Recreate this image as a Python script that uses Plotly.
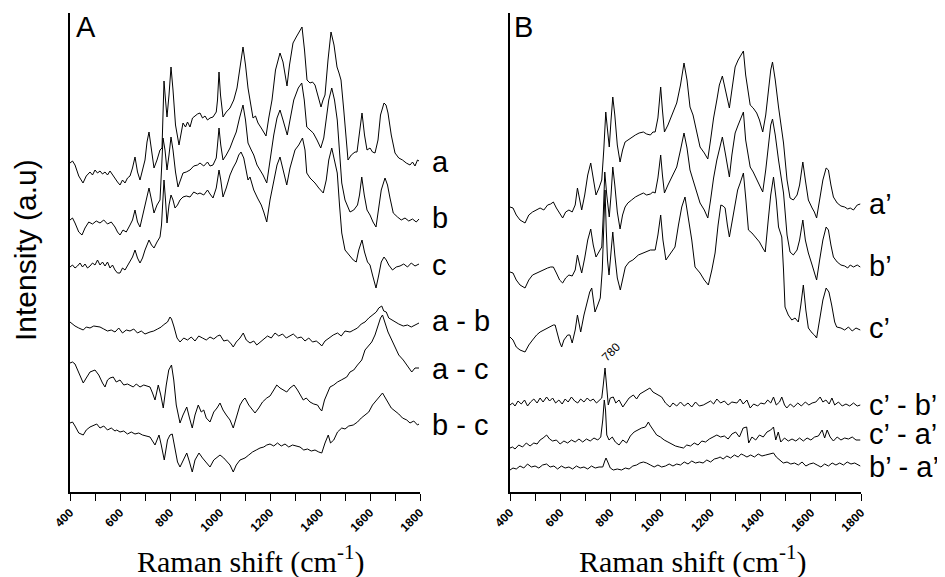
import plotly.graph_objects as go

# Raman shift (cm-1), intensity (a.u.) pairs (spectra already stacked)
A_a = [(400,337),(410,339),(420,335),(435,324),(452,317),(465,324),(480,328),(490,325),(500,330),(510,327),(520,329),(530,326),(540,328),(550,325),(560,329),(570,325),(580,322),(590,318),(600,315),(610,320),(620,317),(630,322),(640,324),(650,332),(660,343),(670,328),(680,320),(690,330),(700,340),(708,358),(716,368),(726,350),(736,332),(748,340),(760,350),(768,352),(772,380),(776,419),(782,400),(788,383),(796,405),(804,433),(812,410),(822,375),(836,355),(844,368),(852,377),(862,373),(870,378),(880,373),(890,382),(900,384),(910,386),(920,387),(930,382),(940,384),(950,380),(960,382),(972,383),(985,388),(990,400),(996,428),(1002,405),(1012,383),(1025,388),(1040,392),(1055,400),(1068,412),(1080,435),(1092,453),(1102,435),(1112,412),(1122,397),(1132,382),(1142,384),(1152,377),(1165,372),(1175,368),(1184,364),(1195,382),(1208,400),(1222,430),(1240,447),(1252,438),(1262,420),(1268,414),(1278,435),(1292,457),(1305,463),(1315,467),(1328,473),(1338,450),(1348,420),(1360,417),(1370,418),(1380,415),(1392,405),(1404,393),(1412,400),(1420,405),(1432,440),(1444,468),(1456,455),(1468,433),(1476,427),(1484,420),(1495,390),(1505,360),(1512,340),(1525,345),(1540,348),(1548,348),(1558,365),(1568,387),(1578,365),(1588,350),(1600,352),(1610,348),(1620,347),(1632,360),(1642,385),(1656,397),(1664,395),(1672,387),(1685,365),(1700,347),(1715,342),(1730,340),(1745,337),(1760,335),(1770,338),(1780,334),(1790,340),(1796,339)]
A_b = [(400,280),(410,282),(420,277),(435,268),(448,265),(460,272),(475,278),(490,276),(505,279),(520,277),(535,280),(550,276),(565,278),(580,273),(590,268),(600,265),(612,270),(625,268),(640,275),(650,280),(660,290),(670,278),(680,273),(692,285),(705,300),(716,312),(726,300),(736,287),(748,295),(760,300),(766,330),(772,362),(780,350),(788,330),(796,345),(804,363),(812,350),(822,328),(832,313),(842,320),(852,327),(865,328),(880,330),(895,334),(910,335),(920,337),(935,334),(950,338),(960,334),(972,335),(985,342),(990,355),(996,372),(1003,355),(1012,340),(1025,345),(1040,352),(1052,360),(1065,368),(1078,382),(1092,395),(1102,380),(1112,357),(1125,350),(1135,345),(1148,335),(1160,330),(1172,325),(1187,317),(1200,340),(1215,365),(1228,382),(1240,390),(1252,380),(1269,365),(1280,380),(1295,400),(1313,412),(1327,417),(1337,400),(1347,373),(1360,370),(1373,367),(1388,360),(1403,352),(1415,362),(1425,380),(1435,400),(1447,412),(1458,400),(1469,380),(1478,350),(1487,317),(1500,300),(1520,288),(1535,290),(1550,295),(1558,305),(1567,323),(1577,305),(1588,290),(1600,285),(1612,278),(1624,273),(1635,290),(1645,310),(1660,322),(1670,315),(1680,302),(1693,287),(1710,283),(1725,280),(1740,282),(1755,279),(1770,281),(1785,278),(1796,281)]
A_c = [(400,233),(410,235),(420,232),(430,234),(440,237),(450,233),(460,236),(470,232),(480,234),(490,237),(500,235),(510,240),(520,235),(530,238),(540,234),(550,238),(560,232),(570,235),(580,230),(590,227),(600,227),(610,232),(620,230),(630,234),(640,238),(650,243),(660,250),(670,242),(680,237),(690,242),(700,250),(708,256),(716,260),(726,255),(736,252),(748,258),(760,263),(766,275),(772,310),(776,320),(782,300),(788,277),(796,295),(804,305),(812,300),(820,292),(830,295),(840,300),(852,303),(865,304),(880,303),(895,308),(910,306),(920,307),(935,305),(950,310),(960,306),(972,302),(985,312),(990,320),(996,330),(1003,320),(1012,303),(1025,312),(1040,325),(1052,332),(1065,338),(1075,345),(1084,348),(1095,342),(1105,330),(1112,320),(1120,323),(1135,310),(1150,302),(1165,295),(1175,288),(1187,278),(1200,300),(1215,320),(1228,335),(1240,343),(1252,330),(1267,315),(1280,332),(1300,350),(1315,355),(1330,362),(1340,350),(1347,327),(1360,322),(1380,317),(1395,312),(1413,307),(1425,320),(1435,340),(1447,352),(1458,340),(1469,327),(1478,295),(1487,267),(1500,250),(1515,245),(1533,240),(1545,238),(1555,250),(1568,260),(1578,248),(1590,238),(1600,235),(1610,225),(1624,212),(1635,225),(1645,238),(1656,243),(1665,240),(1675,235),(1690,230),(1705,233),(1720,234),(1735,236),(1750,233),(1765,237),(1780,234),(1796,236)]
A_ab = [(400,178),(410,176),(420,174),(435,172),(453,170),(465,173),(480,172),(495,174),(510,173),(520,173),(535,171),(550,169),(565,170),(580,168),(595,172),(610,167),(625,170),(640,169),(655,171),(670,167),(685,169),(700,166),(720,168),(735,169),(750,171),(765,173),(773,175),(790,178),(800,183),(806,181),(815,174),(828,162),(840,158),(855,162),(870,160),(885,163),(900,159),(915,164),(930,162),(945,160),(960,163),(975,161),(990,164),(1000,165),(1015,159),(1030,160),(1045,156),(1053,153),(1065,158),(1080,162),(1093,167),(1105,160),(1120,157),(1135,159),(1147,155),(1160,158),(1175,161),(1190,164),(1205,162),(1220,167),(1235,164),(1250,166),(1265,162),(1280,164),(1293,166),(1310,162),(1325,163),(1340,159),(1355,162),(1370,158),(1385,159),(1400,156),(1407,154),(1420,159),(1435,162),(1453,165),(1470,167),(1485,164),(1500,169),(1520,168),(1535,170),(1550,172),(1565,176),(1580,178),(1595,182),(1610,185),(1625,188),(1635,192),(1647,194),(1655,189),(1665,188),(1675,182),(1687,180),(1700,178),(1715,176),(1733,174),(1750,175),(1765,173),(1780,175),(1796,177)]
A_ac = [(400,137),(410,138),(420,136),(435,127),(453,117),(465,122),(480,128),(500,130),(515,125),(530,117),(540,113),(550,120),(560,122),(573,123),(585,118),(600,120),(615,115),(630,116),(645,114),(653,113),(665,116),(680,113),(695,115),(710,114),(720,113),(730,107),(740,100),(747,108),(753,115),(763,105),(773,92),(785,115),(795,130),(806,135),(815,120),(825,95),(840,77),(852,85),(867,93),(878,82),(889,72),(900,85),(913,95),(925,88),(935,90),(945,82),(960,78),(975,88),(988,92),(1000,97),(1012,90),(1025,85),(1040,80),(1053,72),(1065,82),(1080,95),(1092,100),(1100,102),(1115,95),(1130,90),(1140,87),(1155,92),(1170,98),(1187,102),(1200,104),(1215,110),(1227,115),(1240,112),(1255,110),(1267,108),(1280,112),(1296,115),(1310,110),(1322,105),(1333,100),(1345,102),(1360,98),(1375,96),(1390,95),(1400,91),(1407,89),(1418,100),(1430,108),(1440,113),(1455,115),(1470,118),(1485,120),(1500,122),(1507,123),(1520,128),(1535,130),(1550,135),(1560,138),(1567,140),(1580,150),(1595,155),(1607,158),(1620,165),(1632,175),(1642,182),(1650,185),(1660,178),(1672,168),(1687,160),(1700,153),(1715,145),(1733,140),(1750,134),(1767,128),(1780,132),(1796,132)]
A_bc = [(400,77),(410,78),(420,74),(435,67),(453,65),(465,70),(480,73),(495,75),(507,76),(520,72),(535,74),(550,70),(565,72),(580,69),(587,70),(600,68),(615,69),(630,66),(645,68),(660,66),(675,67),(690,65),(705,64),(720,63),(730,59),(740,55),(748,60),(756,65),(765,55),(777,40),(790,60),(800,65),(809,66),(820,52),(830,38),(840,33),(852,40),(867,47),(878,38),(889,28),(900,40),(916,47),(930,42),(945,38),(960,33),(975,40),(988,43),(1000,45),(1015,42),(1030,38),(1040,35),(1053,28),(1065,35),(1080,40),(1100,42),(1115,45),(1130,48),(1145,50),(1160,52),(1175,53),(1187,55),(1200,56),(1215,54),(1230,57),(1245,54),(1260,56),(1275,53),(1290,55),(1305,54),(1320,53),(1335,50),(1350,51),(1365,49),(1380,50),(1395,48),(1407,47),(1420,57),(1433,65),(1442,57),(1455,60),(1470,68),(1487,72),(1500,71),(1515,74),(1533,75),(1550,78),(1565,82),(1580,85),(1595,88),(1610,95),(1625,100),(1640,104),(1650,107),(1660,103),(1672,98),(1685,92),(1700,89),(1715,86),(1730,82),(1747,80),(1760,77),(1775,79),(1790,75),(1796,76)]

B_a = [(400,293),(412,292),(425,285),(440,280),(460,277),(475,285),(490,288),(506,290),(520,292),(535,290),(550,295),(562,296),(573,298),(585,292),(598,286),(610,282),(622,288),(635,290),(648,288),(660,295),(669,312),(678,300),(686,290),(698,305),(710,325),(722,337),(732,320),(743,305),(755,312),(766,320),(774,350),(782,388),(789,370),(796,353),(803,380),(810,403),(818,385),(828,355),(839,338),(849,350),(859,358),(870,360),(885,363),(900,365),(915,367),(932,368),(945,366),(960,365),(970,368),(979,368),(990,382),(1001,413),(1008,390),(1016,368),(1030,375),(1045,385),(1065,397),(1080,415),(1094,437),(1106,420),(1118,393),(1130,385),(1143,370),(1158,353),(1175,347),(1189,341),(1200,360),(1212,382),(1225,400),(1235,415),(1247,424),(1260,410),(1275,392),(1285,410),(1298,433),(1310,440),(1320,444),(1331,449),(1340,425),(1358,395),(1370,392),(1384,387),(1395,380),(1408,368),(1420,385),(1430,410),(1440,430),(1447,438),(1458,420),(1471,393),(1480,375),(1491,357),(1505,320),(1517,302),(1530,300),(1545,305),(1555,315),(1568,338),(1578,320),(1590,300),(1605,292),(1614,288),(1623,282),(1635,300),(1648,320),(1661,332),(1670,330),(1680,315),(1690,303),(1705,297),(1720,294),(1735,293),(1747,291),(1757,292),(1770,290),(1785,295),(1797,296)]
B_b = [(400,228),(412,227),(425,220),(440,215),(460,212),(475,220),(490,225),(506,227),(520,228),(535,230),(550,232),(562,233),(573,233),(585,227),(598,220),(610,217),(622,222),(635,225),(648,224),(660,230),(669,245),(678,235),(686,227),(698,242),(710,260),(722,271),(732,255),(743,243),(755,248),(766,253),(772,285),(778,328),(786,305),(796,283),(803,305),(810,333),(818,315),(828,288),(839,271),(849,285),(859,293),(870,297),(885,300),(900,303),(915,305),(932,307),(945,305),(960,306),(970,308),(979,307),(990,322),(1001,345),(1008,325),(1016,307),(1030,315),(1045,323),(1065,333),(1080,350),(1094,367),(1106,352),(1118,330),(1130,320),(1143,308),(1158,297),(1175,290),(1189,282),(1200,300),(1212,322),(1225,340),(1235,352),(1247,363),(1260,345),(1275,323),(1285,345),(1298,367),(1310,375),(1320,382),(1331,388),(1340,360),(1358,333),(1370,328),(1384,320),(1395,315),(1408,308),(1420,330),(1430,355),(1440,375),(1447,381),(1458,365),(1471,340),(1480,323),(1491,307),(1505,265),(1517,248),(1530,245),(1545,250),(1555,260),(1568,280),(1578,260),(1590,247),(1605,235),(1614,228),(1623,220),(1635,240),(1648,260),(1661,273),(1670,270),(1680,255),(1690,243),(1705,238),(1720,235),(1735,234),(1747,232),(1757,235),(1770,233),(1785,235),(1797,233)]
B_c = [(400,163),(412,160),(425,153),(440,150),(460,148),(475,155),(490,160),(506,165),(520,168),(535,170),(546,172),(560,174),(573,175),(580,175),(590,165),(598,158),(606,153),(615,160),(630,165),(639,165),(648,157),(660,170),(669,185),(676,175),(682,168),(695,185),(710,200),(718,208),(726,212),(733,200),(739,188),(750,195),(760,202),(768,230),(774,270),(779,310),(784,270),(789,240),(795,225),(802,245),(810,268),(818,245),(828,222),(840,210),(850,222),(860,233),(875,238),(890,240),(912,245),(930,247),(945,248),(960,250),(979,250),(990,265),(1001,285),(1010,260),(1022,240),(1035,245),(1050,250),(1058,253),(1072,275),(1085,293),(1098,303),(1110,285),(1125,260),(1138,233),(1158,227),(1175,220),(1191,215),(1205,230),(1218,247),(1230,275),(1241,295),(1250,294),(1258,292),(1267,275),(1275,263),(1287,280),(1298,297),(1308,310),(1318,317),(1331,327),(1341,300),(1351,270),(1365,267),(1378,263),(1395,258),(1408,252),(1418,248),(1430,280),(1440,305),(1451,323),(1462,300),(1471,273),(1484,263),(1491,230),(1497,193),(1510,185),(1524,180),(1537,182),(1550,178),(1560,195),(1570,215),(1580,190),(1590,172),(1605,167),(1614,165),(1623,162),(1635,180),(1648,200),(1661,212),(1672,208),(1683,195),(1695,178),(1703,173),(1720,172),(1735,170),(1750,173),(1765,169),(1780,172),(1797,170)]
B_cb = [(400,95),(410,97),(420,94),(432,99),(445,96),(458,100),(470,94),(482,98),(495,101),(508,97),(520,102),(532,98),(546,103),(558,99),(570,102),(582,97),(595,100),(608,96),(620,101),(632,98),(645,103),(658,99),(670,97),(682,101),(695,98),(708,102),(720,99),(732,101),(745,97),(758,100),(766,102),(772,115),(779,132),(785,115),(792,95),(800,102),(812,103),(822,97),(835,100),(850,93),(862,98),(875,102),(892,105),(905,101),(918,106),(930,108),(945,110),(958,112),(970,108),(985,106),(1005,103),(1020,97),(1038,93),(1050,97),(1065,94),(1080,98),(1095,94),(1110,97),(1125,93),(1140,98),(1155,94),(1171,95),(1185,97),(1200,99),(1212,96),(1225,101),(1240,97),(1255,99),(1270,95),(1285,98),(1305,97),(1318,101),(1330,96),(1345,100),(1358,92),(1372,96),(1388,94),(1400,97),(1415,96),(1428,100),(1440,97),(1451,103),(1462,95),(1475,98),(1484,103),(1495,95),(1504,92),(1518,96),(1532,93),(1548,97),(1562,94),(1578,98),(1592,95),(1605,97),(1620,98),(1637,103),(1648,98),(1660,100),(1673,96),(1684,102),(1695,95),(1710,98),(1725,94),(1740,96),(1755,94),(1770,97),(1785,94),(1797,95)]
B_ca = [(400,52),(410,53),(420,51),(435,55),(450,53),(465,57),(480,54),(495,57),(508,56),(520,60),(532,62),(546,65),(558,61),(570,59),(585,60),(600,56),(615,59),(630,57),(645,60),(660,58),(675,61),(690,58),(705,61),(720,59),(735,62),(750,60),(762,63),(770,80),(776,100),(781,90),(786,65),(795,60),(808,63),(820,58),(835,55),(850,60),(865,57),(880,64),(895,68),(910,70),(925,72),(940,73),(952,78),(958,75),(970,70),(985,65),(1000,63),(1015,60),(1030,58),(1045,56),(1060,54),(1075,53),(1092,52),(1105,55),(1120,54),(1135,57),(1150,55),(1165,59),(1180,58),(1195,61),(1210,63),(1225,65),(1240,63),(1255,64),(1270,61),(1285,66),(1300,68),(1315,63),(1330,72),(1344,73),(1352,57),(1365,63),(1380,60),(1395,65),(1410,63),(1425,68),(1440,70),(1451,73),(1460,60),(1470,68),(1480,58),(1495,62),(1510,59),(1525,61),(1540,59),(1555,62),(1570,59),(1585,62),(1600,60),(1615,63),(1630,64),(1645,70),(1655,62),(1665,70),(1677,63),(1690,59),(1705,63),(1720,60),(1735,62),(1750,61),(1765,63),(1780,60),(1797,60)]
B_ba = [(400,30),(412,32),(425,31),(440,34),(455,32),(470,36),(485,33),(500,34),(515,32),(530,35),(546,36),(560,33),(575,34),(590,31),(605,34),(620,32),(635,33),(650,31),(665,34),(680,32),(695,33),(710,31),(725,34),(740,32),(755,33),(770,33),(778,39),(783,42),(790,38),(800,32),(812,30),(828,31),(845,30),(860,32),(875,31),(890,34),(905,35),(918,37),(932,38),(945,37),(960,35),(975,33),(990,35),(1005,33),(1020,34),(1035,36),(1050,34),(1065,36),(1080,35),(1095,38),(1110,36),(1125,39),(1140,37),(1155,38),(1170,37),(1185,40),(1200,38),(1215,41),(1230,42),(1238,43),(1250,41),(1265,44),(1280,42),(1295,45),(1310,43),(1322,46),(1331,45),(1345,43),(1360,45),(1375,43),(1390,46),(1405,44),(1420,45),(1435,46),(1451,47),(1462,43),(1475,40),(1490,37),(1505,38),(1520,36),(1535,37),(1550,35),(1565,38),(1580,34),(1595,36),(1610,37),(1625,35),(1640,33),(1655,36),(1670,34),(1685,37),(1700,35),(1715,37),(1730,35),(1745,38),(1760,36),(1775,37),(1790,35),(1797,34)]

PANEL_A = [("a", A_a), ("b", A_b), ("c", A_c), ("a - b", A_ab), ("a - c", A_ac), ("b - c", A_bc)]
PANEL_B = [("a\u2019", B_a), ("b\u2019", B_b), ("c\u2019", B_c),
           ("c\u2019 - b\u2019", B_cb), ("c\u2019 - a\u2019", B_ca), ("b\u2019 - a\u2019", B_ba)]
X_TICKS = [400, 600, 800, 1000, 1200, 1400, 1600, 1800]

# the page body has an 8px margin: build the figure to fill the window from (8, 8)
OFF = 8
W, H = 945 - OFF, 577 - OFF
def px(x):
    return (x - OFF) / W
def py(y):
    return 1 - (y - OFF) / H

fig = go.Figure()
for name, pts in PANEL_A:
    fig.add_trace(go.Scatter(x=[p[0] for p in pts], y=[p[1] for p in pts], mode="lines",
                             line=dict(color="black", width=1), name=name, xaxis="x", yaxis="y",
                             showlegend=False))
for name, pts in PANEL_B:
    fig.add_trace(go.Scatter(x=[p[0] for p in pts], y=[p[1] for p in pts], mode="lines",
                             line=dict(color="black", width=1), name=name, xaxis="x2", yaxis="y2",
                             showlegend=False))

xcommon = dict(range=[400, 1800], tickvals=X_TICKS, ticks="outside", ticklen=7, tickwidth=1.2,
               tickcolor="black", showline=True, linecolor="black", linewidth=1.8,
               showgrid=False, zeroline=False, tickangle=-45, automargin=False,
               tickfont=dict(family="Arial", size=12, color="black", weight="bold"),
               minor=dict(dtick=100, tick0=400, ticks="outside", ticklen=7, tickwidth=1.2, tickcolor="black"))
ycommon = dict(range=[8, 487], showline=True, linecolor="black", linewidth=1.8, automargin=False,
               showgrid=False, zeroline=False, showticklabels=False, ticks="")

ydom = [py(492), py(13)]
fig.update_layout(
    template="none",
    width=W, height=H, autosize=False,
    margin=dict(l=0, r=0, t=0, b=0, pad=0),
    paper_bgcolor="white", plot_bgcolor="white",
    xaxis=dict(domain=[px(70), px(420)], anchor="y", **xcommon),
    yaxis=dict(domain=ydom, anchor="x", **ycommon),
    xaxis2=dict(domain=[px(510), px(861)], anchor="y2", **xcommon),
    yaxis2=dict(domain=ydom, anchor="x2", **ycommon),
)

ann = []
label_font = dict(family="Arial", size=29, color="black")
A_LABEL_Y = [162, 218, 265, 321, 369, 425]
B_LABEL_Y = [204, 266, 328, 405, 434, 467]
for (name, _), y in zip(PANEL_A, A_LABEL_Y):
    ann.append(dict(x=px(430), y=py(y), xref="paper", yref="paper", text=name, showarrow=False,
                    xanchor="left", yanchor="middle", font=label_font))
for (name, _), y in zip(PANEL_B, B_LABEL_Y):
    ann.append(dict(x=px(867), y=py(y), xref="paper", yref="paper", text=name, showarrow=False,
                    xanchor="left", yanchor="middle", font=label_font))

ann.append(dict(x=px(74), y=py(27), xref="paper", yref="paper", text="A", showarrow=False,
                xanchor="left", yanchor="middle", font=dict(family="Arial", size=29, color="black")))
ann.append(dict(x=px(512), y=py(27), xref="paper", yref="paper", text="B", showarrow=False,
                xanchor="left", yanchor="middle", font=dict(family="Arial", size=29, color="black")))
ann.append(dict(x=px(611), y=py(352), xref="paper", yref="paper", text="780", showarrow=False,
                textangle=-45, xanchor="center", yanchor="middle",
                font=dict(family="Arial", size=12, color="black")))
ann.append(dict(x=px(25), y=py(250), xref="paper", yref="paper", text="Intensity (a.u)",
                showarrow=False, textangle=-90, xanchor="center", yanchor="middle",
                font=dict(family="Arial", size=30, color="black")))
for cx in (250, 692):
    ann.append(dict(x=px(cx), y=py(559), xref="paper", yref="paper",
                    text="Raman shift (cm<sup>-1</sup>)", showarrow=False,
                    xanchor="center", yanchor="middle",
                    font=dict(family="Liberation Serif", size=30, color="black")))
fig.update_layout(annotations=ann)

fig.write_html("out.html")
